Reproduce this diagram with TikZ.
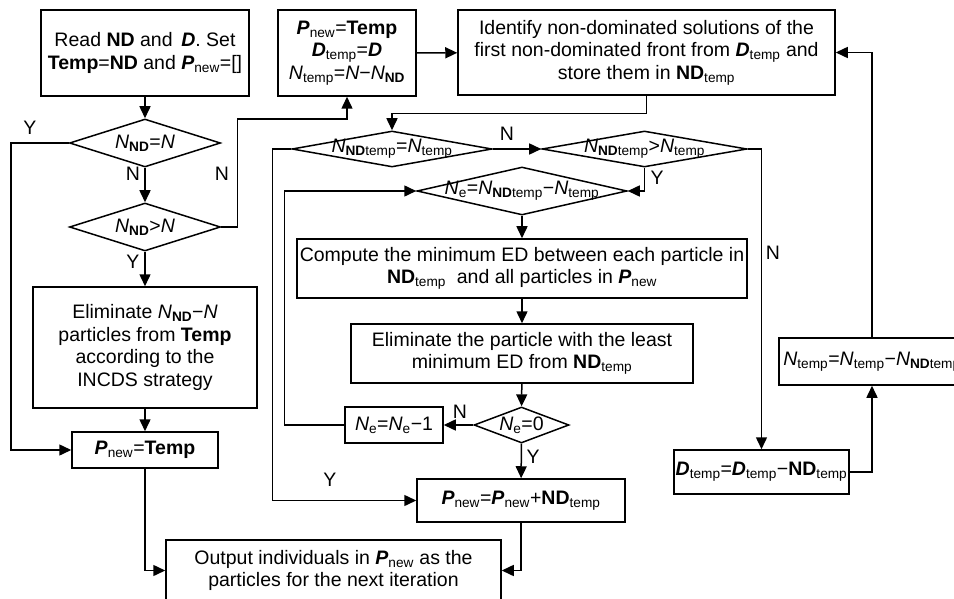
\documentclass[tikz,border=0pt]{standalone}
\usepackage{fontspec}
\setmainfont{Liberation Sans}
\usepackage{tikz}
\usetikzlibrary{arrows.meta,shapes.geometric}
\newcommand{\Pnew}{\textbf{\textit{P}}\textsubscript{new}}
\newcommand{\Dtmp}{\textbf{\textit{D}}\textsubscript{temp}}
\newcommand{\NDtmp}{\textbf{ND}\textsubscript{temp}}
\newcommand{\Ntmp}{\textit{N}\textsubscript{temp}}
\newcommand{\Nnd}{\textit{N}\textsubscript{\textbf{ND}}}
\newcommand{\Nndt}{\textit{N}\textsubscript{\textbf{ND}temp}}
\newcommand{\Nel}{\textit{N}\textsubscript{e}}
\tikzset{
  every node/.style={font=\fontsize{19.5}{22.5}\selectfont},
  procbox/.style={draw, line width=1.5pt, align=center, inner sep=0pt},
  decision/.style={diamond, draw, line width=1.5pt, inner sep=0pt},
  arr/.style={line width=1.5pt, -{Triangle[length=12pt,width=11pt]}},
  lbl/.style={inner sep=0pt},
}

\begin{document}
\begin{tikzpicture}[x=1pt, y=-1pt]
\useasboundingbox (0,0) rectangle (954,599);
\clip (0,0) rectangle (954,599);
% left column
\node[procbox, minimum width=208pt, minimum height=86pt] (read) at (145,53) {Read \textbf{ND} and\, \textbf{\textit{D}}. Set\\\textbf{Temp}=\textbf{ND} and \Pnew=[]};
\node[decision, minimum width=151pt, minimum height=48pt] (d1) at (145,143) {\makebox[0pt]{\Nnd=\textit{N}}};
\node[decision, minimum width=151pt, minimum height=48pt] (d2) at (145,227) {\makebox[0pt]{\Nnd>\textit{N}}};
\node[procbox, minimum width=224pt, minimum height=121pt] (elim) at (145,347.5) {Eliminate \Nnd−\textit{N}\\particles from \textbf{Temp}\\according to the\\INCDS strategy};
\node[procbox, minimum width=146pt, minimum height=36pt] (pnt) at (145,450) {\Pnew=\textbf{Temp}};
\node[procbox, minimum width=335pt, minimum height=61pt] (out) at (333.5,570.5) {Output individuals in \Pnew\ as the\\particles for the next iteration};
% middle column
\node[procbox, minimum width=138pt, minimum height=86pt] (init) at (347,53) {\Pnew=\textbf{Temp}\\\Dtmp=\textbf{\textit{D}}\\\Ntmp=\textit{N}−\Nnd};
\node[procbox, minimum width=377pt, minimum height=85pt] (ident) at (646.5,52.5) {Identify non-dominated solutions of the\\first non-dominated front from \Dtmp\ and\\store them in \NDtmp};
\node[decision, minimum width=200pt, minimum height=36pt] (d3) at (392,149) {\makebox[0pt]{\Nndt=\Ntmp}};
\node[decision, minimum width=205pt, minimum height=36pt] (d4) at (644.5,149) {\makebox[0pt]{\Nndt>\Ntmp}};
\node[decision, minimum width=210pt, minimum height=48pt] (d5) at (522,191) {\makebox[0pt]{\Nel=\Nndt−\Ntmp}};
\node[procbox, minimum width=450pt, minimum height=59pt] (comp) at (522,268.5) {Compute the minimum ED between each particle in\\\NDtmp\ \ and all particles in \Pnew};
\node[procbox, minimum width=342pt, minimum height=59pt] (elimp) at (522,353.5) {Eliminate the particle with the least\\minimum ED from \NDtmp};
\node[decision, minimum width=95pt, minimum height=36pt] (d6) at (521.5,425) {\makebox[0pt]{\Nel=0}};
\node[procbox, minimum width=98pt, minimum height=36pt] (nem) at (394,425) {\Nel=\Nel−1};
\node[procbox, minimum width=208pt, minimum height=43pt] (padd) at (521,500.5) {\Pnew=\Pnew+\NDtmp};
% right column
\node[procbox, minimum width=175pt, minimum height=44pt] (dtmp) at (761.5,472) {\Dtmp=\Dtmp−\NDtmp};
\node[procbox, minimum width=186pt, minimum height=47pt] (ntmp) at (872,361.5) {\Ntmp=\Ntmp−\Nndt};
% connectors
\draw[arr] (read) -- (d1);
\draw[arr] (d1) -- (d2);
\draw[arr] (d2) -- (elim);
\draw[arr] (elim) -- (pnt);
\draw[arr] (d1.west) -- ++(-58,0) |- (pnt.west);
\draw[arr] (d2.east) -- ++(16,0) -- ++(0,-108) -| (init.south);
\draw[arr] (pnt.south) |- (out.west);
\draw[arr] (init) -- (ident);
\draw[arr] (ident.south) -- ++(0,18) -| (d3.north);
\draw[arr] (d3) -- (d4);
\draw[arr] (d4.east) -| (dtmp.north);
\draw[arr] (d4.south) |- (d5.east);
\draw[arr] (d5) -- (comp);
\draw[arr] (comp) -- (elimp);
\draw[arr] (elimp) -- (d6);
\draw[arr] (d6) -- (nem);
\draw[arr] (nem.west) -- ++(-60,0) |- (d5.west);
\draw[arr] (d6) -- (padd);
\draw[arr] (d3.west) -- ++(-19,0) |- (padd.west);
\draw[arr] (padd.south) |- (out.east);
\draw[arr] (dtmp.east) -| (ntmp.south);
\draw[arr] (ntmp.north) |- (ident.east);
% branch labels
\node[lbl] (y1) at (30,128) {Y};
\node[lbl] (n1) at (133,174) {N};
\node[lbl] (n2) at (222,174) {N};
\node[lbl] (y2) at (133,262) {Y};
\node[lbl] (n3) at (507,134) {N};
\node[lbl] (y3) at (657,178) {Y};
\node[lbl] (n4) at (773,253) {N};
\node[lbl] (n5) at (460,412) {N};
\node[lbl] (y4) at (533,457) {Y};
\node[lbl] (y5) at (330,480) {Y};
\end{tikzpicture}
\end{document}
